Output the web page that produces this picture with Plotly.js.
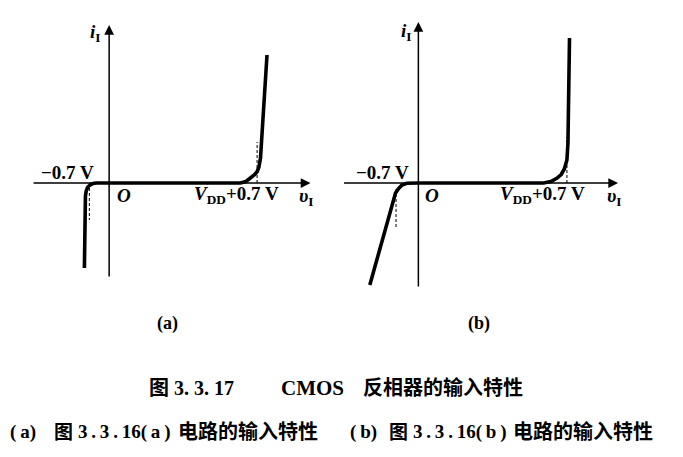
<!DOCTYPE html>
<html>
<head>
<meta charset="utf-8">
<script src="https://cdn.plot.ly/plotly-3.0.1.min.js"></script>
<style>html,body{margin:0;padding:0;background:#fff;}#chart{width:683px;height:457px;}</style>
</head>
<body>
<div id="chart"></div>
<script>
// Panel (a): input characteristic, v_I (V-like units) vs i_I (arbitrary units)
var vA = [-0.95, -0.93, -0.91, -0.88, -0.83, -0.76, -0.69, -0.58, -0.47, 0, 5.04, 5.25, 5.42, 5.57, 5.68, 5.75, 5.81, 5.87, 6.0, 6.06];
var iA = [-8.5, -3.0, -1.3, -0.8, -0.45, -0.25, -0.12, -0.03, 0, 0, 0, 0.15, 0.45, 0.8, 1.13, 1.6, 2.5, 5.0, 9.6, 12.8];
// Panel (b)
var vB = [-1.87, -0.88, -0.76, -0.63, -0.45, -0.3, 0, 4.82, 5.1, 5.33, 5.5, 5.62, 5.72, 5.76, 5.78, 5.82];
var iB = [-10.2, -1.0, -0.55, -0.2, -0.03, 0, 0, 0, 0.15, 0.47, 0.85, 1.4, 2.3, 4.0, 6.3, 14.5];
// dashed guide lines (v, i pairs)
var dashA_left_v = [-0.76, -0.76], dashA_left_i = [0, -3.7];
var dashA_right_v = [5.68, 5.68], dashA_right_i = [0, 4.1];
var dashB_left_v = [-0.86, -0.86], dashB_left_i = [-0.6, -4.4];
var dashB_right_v = [5.72, 5.72], dashB_right_i = [0, 4.6];
// text labels
var labelNeg = '\u22120.7 V';
var labelO = '<i>O</i>';
var labelVdd = '<i>V</i><sub>DD</sub>+0.7 V';
var labelI = '<i>i</i><sub>I</sub>';
var labelV = '<i>\u03c5</i><sub>I</sub>';
var panelNames = ['(a)', '(b)'];
var T = '\u2009';
var titleParts = ['图 3.&nbsp;3.&nbsp;17', 'CMOS', '反相器的输入特性'];
var subAParts = ['(' + T + 'a)', '图', '3' + T + '.' + T + '3' + T + '.' + T + '16(' + T + 'a' + T + ')', '电路的输入特性'];
var subBParts = ['(' + T + 'b)', '图', '3' + T + '.' + T + '3' + T + '.' + T + '16(' + T + 'b' + T + ')', '电路的输入特性'];

var serif = 'Liberation Serif, Noto Sans CJK SC, serif';

function curve(x, y, xa, w, dash) {
  return {x: x, y: y, xaxis: xa, yaxis: 'y', mode: 'lines', hoverinfo: 'skip',
    line: {color: '#000', width: w, dash: dash || 'solid'}, showlegend: false};
}
var data = [
  curve(vA, iA, 'x', 3.6),
  curve(vB, iB, 'x2', 3.6),
  curve(dashA_left_v, dashA_left_i, 'x', 1, '3px,2px'),
  curve(dashA_right_v, dashA_right_i, 'x', 1, '3px,2px'),
  curve(dashB_left_v, dashB_left_i, 'x2', 1, '3px,2px'),
  curve(dashB_right_v, dashB_right_i, 'x2', 1, '3px,2px')
];

function arrow(xr, x, y, ax, ay) {
  return {xref: xr, yref: 'y', axref: xr, ayref: 'y', x: x, y: y, ax: ax, ay: ay,
    text: '', showarrow: true, arrowhead: 2, arrowsize: 1.3, arrowwidth: 1.5, arrowcolor: '#000', standoff: 0};
}
function lab(xr, x, y, t, size, xanchor) {
  return {xref: xr, yref: 'y', x: x, y: y, text: t, showarrow: false,
    xanchor: xanchor || 'center', yanchor: 'middle', font: {family: serif, size: size || 19, color: '#000', weight: 'bold'}};
}
function ptxt(xpx, ypx, t, size, xanchor) {
  return {xref: 'paper', yref: 'paper', x: xpx / 683, y: 1 - ypx / 457, text: t, showarrow: false,
    xanchor: xanchor || 'left', yanchor: 'middle', font: {family: serif, size: size, color: '#000', weight: 'bold'}};
}

var annotations = [
  arrow('x', 0, 15.8, 0, -9.5),
  arrow('x', 7.73, 0, -2.96, 0),
  arrow('x2', 0, 16.1, 0, -10.5),
  arrow('x2', 7.69, 0, -2.92, 0),
  lab('x', -0.54, 15.0, labelI),
  lab('x', -1.6, 1.1, labelNeg),
  lab('x', 0.56, -1.25, labelO),
  lab('x', 4.9, -1.2, labelVdd),
  lab('x', 7.56, -1.4, labelV),
  lab('x2', -0.48, 15.1, labelI),
  lab('x2', -1.38, 1.1, labelNeg),
  lab('x2', 0.52, -1.2, labelO),
  lab('x2', 4.79, -1.2, labelVdd),
  lab('x2', 7.54, -1.4, labelV),
  ptxt(167, 323, panelNames[0], 18, 'center'),
  ptxt(479, 323, panelNames[1], 18, 'center'),
  ptxt(147, 388, titleParts[0], 20),
  ptxt(279, 388, titleParts[1], 21),
  ptxt(361, 388, titleParts[2], 20),
  ptxt(8, 432, subAParts[0], 19),
  ptxt(52, 432, subAParts[1], 19),
  ptxt(76, 432, subAParts[2], 19),
  ptxt(176, 432, subAParts[3], 20),
  ptxt(348, 432, subBParts[0], 19),
  ptxt(387, 432, subBParts[1], 19),
  ptxt(411, 432, subBParts[2], 19),
  ptxt(511, 432, subBParts[3], 20)
];

var layout = {
  width: 683, height: 457,
  margin: {l: 0, r: 0, t: 0, b: 0, pad: 0},
  paper_bgcolor: '#fff', plot_bgcolor: '#fff',
  showlegend: false,
  xaxis: {domain: [0, 0.5], range: [-4.19, 8.92], visible: false, fixedrange: true},
  xaxis2: {domain: [0.5, 1], range: [-2.96, 10.19], visible: false, anchor: 'y', fixedrange: true},
  yaxis: {domain: [0, 1], range: [-27.4, 18.3], visible: false, fixedrange: true},
  annotations: annotations
};
Plotly.newPlot('chart', data, layout, {displayModeBar: false, staticPlot: true});
</script>
</body>
</html>
